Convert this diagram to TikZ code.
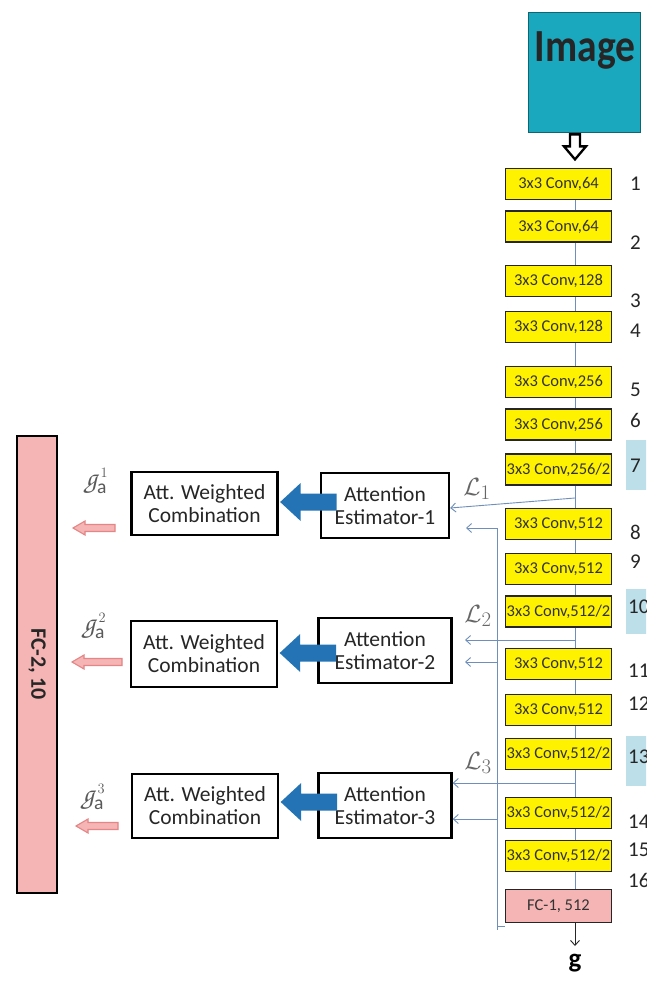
\documentclass[tikz,border=0pt]{standalone}
\usepackage{fontspec}
\setmainfont{Carlito}
\usetikzlibrary{arrows.meta}
\definecolor{teal1}{HTML}{1AA8BF}
\definecolor{conn}{HTML}{6F8FBA}
\definecolor{lblue}{HTML}{BCDFEA}
\definecolor{pinkf}{HTML}{F5B5B5}
\definecolor{pinkd}{HTML}{E58585}
\definecolor{ablue}{HTML}{2474B5}
\newcommand{\gscr}{{\fontencoding{T1}\fontfamily{pzc}\selectfont g}}
\begin{document}
\begin{tikzpicture}[x=1pt,y=-1pt,
  conv/.style={draw=black!85,line width=1.6pt,fill=yellow,minimum width=106pt,minimum height=31pt,inner sep=0pt,font=\fontsize{16.5}{16.5}\selectfont,text=black!80},
  fcone/.style={conv,fill=pinkf,minimum height=33pt},
  num/.style={anchor=west,inner sep=0pt,font=\fontsize{21}{21}\selectfont,text=black!85},
  hl/.style={fill=lblue,draw=none,minimum width=24pt,inner sep=0pt},
  wbox/.style={draw=black,line width=2.3pt,fill=white,align=center,inner sep=0pt,font=\fontsize{21.5}{23}\selectfont,text=black!85},
  cline/.style={draw=conn,line width=0.9pt},
  carrow/.style={cline,-{Straight Barb[length=5pt,width=9pt]}},
  lab/.style={text=black!60,inner sep=0pt,font=\fontsize{28}{28}\selectfont},
  pinkarrow/.style={fill=pinkf,draw=pinkd,line width=1.1pt,line join=miter},
  bluearrow/.style={fill=ablue,draw=none}
]
\useasboundingbox (0,0) rectangle (646,981);
\clip (0,0) rectangle (646,981);
\fill[white] (0,0) rectangle (646,981);

% light blue highlight boxes
\node[hl,minimum height=50pt] (h7) at (638,465) {};
\node[hl,minimum height=45pt] (h10) at (638,611.5) {};
\node[hl,minimum height=50pt] (h13) at (638,760.5) {};

% image
\node[draw=teal1!60!black,line width=0.8pt,fill=teal1,minimum width=112pt,minimum height=120pt,inner sep=0pt] (img) at (584,72) {};
\node[inner sep=0pt,font=\fontsize{46}{46}\selectfont\bfseries,text=black!85] (imgtxt) at (585,50) {\scalebox{0.86}[1]{Image}};
\draw[shift={(img.south)},shift={(-9,0)},line width=2.3pt,fill=white,line join=miter]
  (-5,2) -- (5,2) -- (5,14) -- (11,14) -- (0,27) -- (-11,14) -- (-5,14) -- cycle;

% spine reference
\coordinate (sp) at (575,0);

% conv boxes
\node[conv] (c1) at (558.5,184) {3x3 Conv,64};
\node[conv] (c2) at (558.5,226.5) {3x3 Conv,64};
\node[conv] (c3) at (558.5,281) {3x3 Conv,128};
\node[conv] (c4) at (558.5,327) {3x3 Conv,128};
\node[conv] (c5) at (558.5,382) {3x3 Conv,256};
\node[conv] (c6) at (558.5,424.5) {3x3 Conv,256};
\node[conv] (c7) at (558.5,469.5) {3x3 Conv,256/2};
\node[conv] (c8) at (558.5,524) {3x3 Conv,512};
\node[conv] (c9) at (558.5,569) {3x3 Conv,512};
\node[conv] (c10) at (558.5,611.5) {3x3 Conv,512/2};
\node[conv] (c11) at (558.5,664) {3x3 Conv,512};
\node[conv] (c12) at (558.5,710) {3x3 Conv,512};
\node[conv] (c13) at (558.5,754) {3x3 Conv,512/2};
\node[conv] (c14) at (558.5,813) {3x3 Conv,512/2};
\node[conv] (c15) at (558.5,856) {3x3 Conv,512/2};
\node[fcone] (fc1) at (558.5,906) {FC-1, 512};

\foreach \a/\b in {c1/c2,c2/c3,c3/c4,c4/c5,c5/c6,c6/c7,c7/c8,c8/c9,c9/c10,c10/c11,c11/c12,c12/c13,c13/c14,c14/c15,c15/fc1}
  \draw[cline] (\a.south -| sp) -- (\b.north -| sp);

% layer numbers
\node[num] (n1) at (630,184) {1};
\node[num] (n2) at (630,243) {2};
\node[num] (n3) at (630,301) {3};
\node[num] (n4) at (630,331) {4};
\node[num] (n5) at (630,390) {5};
\node[num] (n6) at (630,420) {6};
\node[num] (n7) at (630,466) {7};
\node[num] (n8) at (630,532) {8};
\node[num] (n9) at (630,562) {9};
\node[num] (n10) at (628,607) {10};
\node[num] (n11) at (628,671) {11};
\node[num] (n12) at (628,704) {12};
\node[num] (n13) at (628,757) {13};
\node[num] (n14) at (628,822) {14};
\node[num] (n15) at (628,850) {15};
\node[num] (n16) at (628,880) {16};

% output g
\coordinate (gend) at (575,946);
\draw[draw=black!85,line width=0.9pt,-{Straight Barb[length=5pt,width=9pt]}] (fc1.south -| sp) -- (gend);
\node[inner sep=0pt,font=\fontsize{27}{27}\selectfont] (gout) at (575,963) {$\mathbf{g}$};

% attention estimators and combinations
\node[wbox,minimum width=128pt,minimum height=65pt] (ae1) at (385,505.5) {Attention\\Estimator-1};
\node[wbox,minimum width=133pt,minimum height=65pt] (ae2) at (385,650.5) {Attention\\Estimator-2};
\node[wbox,minimum width=133pt,minimum height=65pt] (ae3) at (385,805.5) {Attention\\Estimator-3};
\node[wbox,minimum width=146pt,minimum height=63pt] (aw1) at (204.5,503.5) {Att. Weighted\\Combination};
\node[wbox,minimum width=146pt,minimum height=66pt] (aw2) at (204,654) {Att. Weighted\\Combination};
\node[wbox,minimum width=146pt,minimum height=64pt] (aw3) at (205,806) {Att. Weighted\\Combination};

% thick blue arrows
\foreach \n/\dy in {1/-1.5,2/-1,3/-4}
  \fill[bluearrow,shift={(aw\n.east)},shift={(0,\dy)}]
    (1.5,0) -- (22,-19) -- (22,-8.5) -- (58,-8.5) -- (58,8.5) -- (22,8.5) -- (22,19) -- cycle;

% feature line
\coordinate (f1) at (497,528);
\coordinate (fend) at (497,930);
\coordinate (fc) at (505,926);
\draw[cline] (f1) -- (fend);
\draw[cline] (fend |- fc) -- (fc);

% L arrows
\coordinate (j1) at (575,498);
\coordinate (t1) at (466,528);
\draw[carrow] (j1) -- ([yshift=-2.5pt]ae1.east);
\draw[carrow] (f1) -- (t1);
\node[lab] (L1) at (477,489) {$\mathcal{L}_1$};

\coordinate (j2) at (575,640);
\coordinate (t2) at (465,640);
\coordinate (f2) at (497,662);
\coordinate (t2b) at (465,662);
\draw[carrow] (j2) -- (t2);
\draw[carrow] (f2) -- (t2b);
\node[lab] (L2) at (478,616) {$\mathcal{L}_2$};

\coordinate (j3) at (575,783);
\coordinate (f3) at (497,819);
\draw[carrow] (j3) -- (ae3.east |- j3);
\draw[carrow] (f3) -- (ae3.east |- f3);
\node[lab] (L3) at (478,763) {$\mathcal{L}_3$};

% FC-2
\node[draw=black,line width=2.3pt,fill=pinkf,minimum width=40pt,minimum height=457pt,inner sep=0pt] (fc2) at (37,664.5) {};
\node[rotate=-90,inner sep=0pt,font=\fontsize{22}{22}\selectfont\bfseries,text=black!85] (fc2t) at (fc2.center) {FC-2, 10};

% g_a labels
\node[lab,text=black!65] (ga1) at (97,482) {\gscr$_{\mathrm{a}}^{\,\scriptscriptstyle 1}$};
\node[lab,text=black!65] (ga2) at (95,627) {\gscr$_{\mathrm{a}}^{\,\scriptscriptstyle 2}$};
\node[lab,text=black!65] (ga3) at (94,798) {\gscr$_{\mathrm{a}}^{\,\scriptscriptstyle 3}$};

% pink arrows
\foreach \x/\y/\l in {73/528/42,72/662/50,76/826/42}
  \draw[pinkarrow,shift={(\x,\y)}] (0,0) -- (12,-7) -- (12,-3.5) -- (\l,-3.5) -- (\l,3.5) -- (12,3.5) -- (12,7) -- cycle;
\end{tikzpicture}
\end{document}
